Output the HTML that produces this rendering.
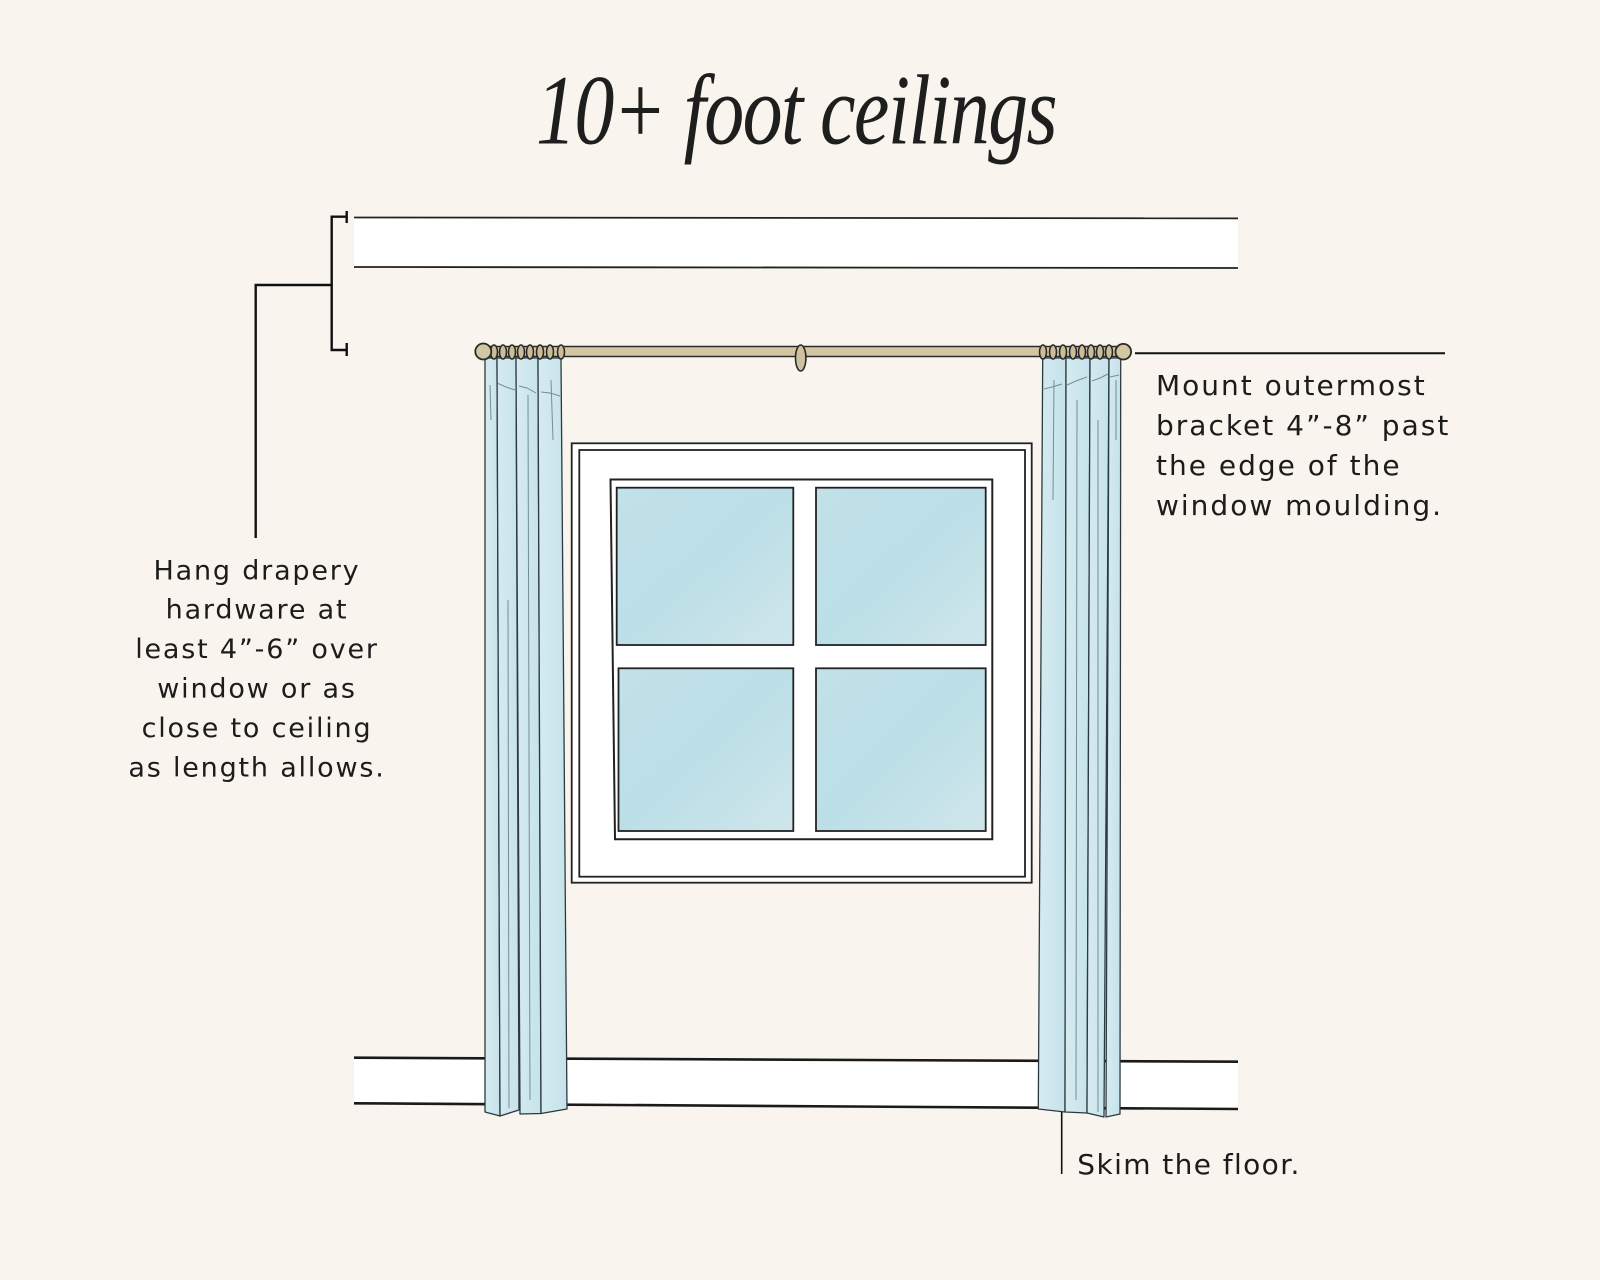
<!DOCTYPE html>
<html>
<head>
<meta charset="utf-8">
<style>
  html, body { margin: 0; padding: 0; background: #f9f5ee; }
  body { width: 1600px; height: 1280px; overflow: hidden; }
  svg { display: block; }
  .lbl { font-family: "DejaVu Sans", "Liberation Sans", sans-serif; fill: #1c1c1c; }
</style>
</head>
<body>
<svg width="1600" height="1280" viewBox="0 0 1600 1280" xmlns="http://www.w3.org/2000/svg">
  <defs>
    <linearGradient id="glass" x1="0" y1="0" x2="1" y2="1">
      <stop offset="0" stop-color="#c2e1e9"/>
      <stop offset="0.5" stop-color="#bcdfe7"/>
      <stop offset="1" stop-color="#cfe6eb"/>
    </linearGradient>
    <linearGradient id="cur" x1="0" y1="0" x2="1" y2="0">
      <stop offset="0" stop-color="#d5ebf0"/>
      <stop offset="1" stop-color="#c6e2ea"/>
    </linearGradient>
  </defs>

  <rect x="0" y="0" width="1600" height="1280" fill="#f9f5ee"/>

  <!-- Title -->
  <text transform="translate(536,143.6) scale(0.8,1)" font-family="Liberation Serif, serif" font-style="italic" font-size="100" letter-spacing="-2" fill="#1e1e1e">10+ foot ceilings</text>

  <!-- Ceiling band -->
  <rect x="354" y="217.7" width="884" height="49.6" fill="#ffffff"/>
  <line x1="354" y1="217.5" x2="1238" y2="218.3" stroke="#222" stroke-width="1.8"/>
  <line x1="354" y1="267" x2="1238" y2="268" stroke="#222" stroke-width="1.8"/>

  <!-- Floor band -->
  <polygon points="354,1057.7 1238,1061.7 1238,1109 354,1103.3" fill="#ffffff"/>
  <line x1="354" y1="1057.7" x2="1238" y2="1061.7" stroke="#1a1a1a" stroke-width="2.6"/>
  <line x1="354" y1="1103.3" x2="1238" y2="1109" stroke="#1a1a1a" stroke-width="2.6"/>

  <!-- Left bracket annotation -->
  <g stroke="#111" stroke-width="2.4" fill="none">
    <polyline points="346.7,216.7 331.7,216.7 331.7,350 346.7,350"/>
    <line x1="346.7" y1="211" x2="346.7" y2="223"/>
    <line x1="346.7" y1="343" x2="346.7" y2="356"/>
    <polyline points="331.7,285 255.7,285 255.7,538"/>
  </g>

  <!-- Window -->
  <rect x="571.7" y="443.3" width="460" height="439.4" fill="#ffffff" stroke="#222" stroke-width="1.8"/>
  <rect x="579.3" y="450" width="445.7" height="426.7" fill="none" stroke="#222" stroke-width="1.8"/>
  <polygon points="610.5,479.5 992.3,479.5 992.3,839.3 615,839.3" fill="none" stroke="#222" stroke-width="2"/>
  <g stroke="#222" stroke-width="1.8" fill="url(#glass)">
    <rect x="616.7" y="487.7" width="176.6" height="157.3"/>
    <rect x="816" y="487.7" width="169.7" height="157.3"/>
    <rect x="618.5" y="668.3" width="174.8" height="162.7"/>
    <rect x="816" y="668.3" width="169.7" height="162.7"/>
  </g>

  <!-- Left curtain -->
  <g stroke="#2b3a40" stroke-width="1.3" fill="url(#cur)" stroke-linejoin="round">
    <polygon points="485,358 497,358 500,1116 485,1112"/>
    <polygon points="497,358 516,358 519,1110 500,1116"/>
    <polygon points="516,358 538,358 541,1113.5 520,1114"/>
    <polygon points="538,358 561,358 567,1109 541,1113.5"/>
  </g>
  <g stroke="#3c5258" stroke-width="1" fill="none" opacity="0.6">
    <line x1="490" y1="385" x2="491" y2="420"/>
    <line x1="528" y1="395" x2="530" y2="1100"/>
    <line x1="551" y1="380" x2="553" y2="440"/>
    <line x1="508" y1="600" x2="509" y2="1108"/>
    <polyline points="497,383 506,387 515,390"/>
    <polyline points="519,386 527,388 536,393"/>
    <polyline points="541,392 550,393 560,396"/>
  </g>

  <!-- Right curtain -->
  <g stroke="#2b3a40" stroke-width="1.3" fill="url(#cur)" stroke-linejoin="round">
    <polygon points="1042.7,358 1066,358 1065,1112 1038.3,1109"/>
    <polygon points="1066,358 1090,358 1087,1113 1065,1112"/>
    <polygon points="1090,358 1109,358 1104,1117 1087,1113"/>
    <polygon points="1109,358 1120.7,358 1120,1114 1106,1117"/>
  </g>
  <g stroke="#3c5258" stroke-width="1" fill="none" opacity="0.6">
    <line x1="1054" y1="380" x2="1053" y2="500"/>
    <line x1="1077" y1="400" x2="1076" y2="1100"/>
    <line x1="1098" y1="420" x2="1098" y2="1112"/>
    <line x1="1116" y1="380" x2="1116" y2="440"/>
    <polyline points="1044,389 1052,387 1062,384"/>
    <polyline points="1067,385 1076,381 1087,377"/>
    <polyline points="1092,381 1100,378 1108,374"/>
    <polyline points="1110,377 1119,375"/>
  </g>

  <!-- Rod -->
  <rect x="483" y="346.5" width="640" height="10" rx="3" fill="#d2c6a3" stroke="#2a2a2a" stroke-width="1.6"/>
  <ellipse cx="800.7" cy="358" rx="5.2" ry="13" fill="#cfc29e" stroke="#2a2a2a" stroke-width="1.6"/>
  <g fill="#cbbd98" stroke="#2a2a2a" stroke-width="1.6">
    <ellipse cx="494" cy="352" rx="3.5" ry="7"/>
    <ellipse cx="503" cy="352" rx="3.5" ry="7"/>
    <ellipse cx="512" cy="352" rx="3.5" ry="7"/>
    <ellipse cx="521" cy="352" rx="3.5" ry="7"/>
    <ellipse cx="530" cy="352" rx="3.5" ry="7"/>
    <ellipse cx="540" cy="352" rx="3.5" ry="7"/>
    <ellipse cx="550" cy="352" rx="3.5" ry="7"/>
    <ellipse cx="561" cy="352" rx="3.5" ry="7"/>

    <ellipse cx="1043" cy="352" rx="3.5" ry="7"/>
    <ellipse cx="1053" cy="352" rx="3.5" ry="7"/>
    <ellipse cx="1063" cy="352" rx="3.5" ry="7"/>
    <ellipse cx="1073" cy="352" rx="3.5" ry="7"/>
    <ellipse cx="1082" cy="352" rx="3.5" ry="7"/>
    <ellipse cx="1091" cy="352" rx="3.5" ry="7"/>
    <ellipse cx="1100" cy="352" rx="3.5" ry="7"/>
    <ellipse cx="1109" cy="352" rx="3.5" ry="7"/>
  </g>
  <circle cx="483.3" cy="351.5" r="8" fill="#d2c6a3" stroke="#2a2a2a" stroke-width="1.8"/>
  <circle cx="1123.3" cy="351.7" r="7.8" fill="#d2c6a3" stroke="#2a2a2a" stroke-width="1.8"/>

  <!-- Right annotation line -->
  <line x1="1135" y1="353.3" x2="1445" y2="353.3" stroke="#111" stroke-width="2"/>

  <!-- Skim line -->
  <line x1="1061.7" y1="1111.7" x2="1061.7" y2="1174" stroke="#111" stroke-width="1.6"/>

  <!-- Right text -->
  <g class="lbl" font-size="28" letter-spacing="2.0">
    <text x="1156" y="395">Mount outermost</text>
    <text x="1156" y="435">bracket 4”-8” past</text>
    <text x="1156" y="475">the edge of the</text>
    <text x="1156" y="515">window moulding.</text>
  </g>

  <!-- Left text -->
  <g class="lbl" font-size="27" letter-spacing="1.8" text-anchor="middle">
    <text x="257" y="579.3">Hang drapery</text>
    <text x="257" y="618.7">hardware at</text>
    <text x="257" y="658.1">least 4”-6” over</text>
    <text x="257" y="697.5">window or as</text>
    <text x="257" y="736.9">close to ceiling</text>
    <text x="257" y="776.5">as length allows.</text>
  </g>

  <!-- Skim text -->
  <text class="lbl" x="1077.3" y="1174" font-size="28" letter-spacing="1.4">Skim the floor.</text>
</svg>
</body>
</html>
